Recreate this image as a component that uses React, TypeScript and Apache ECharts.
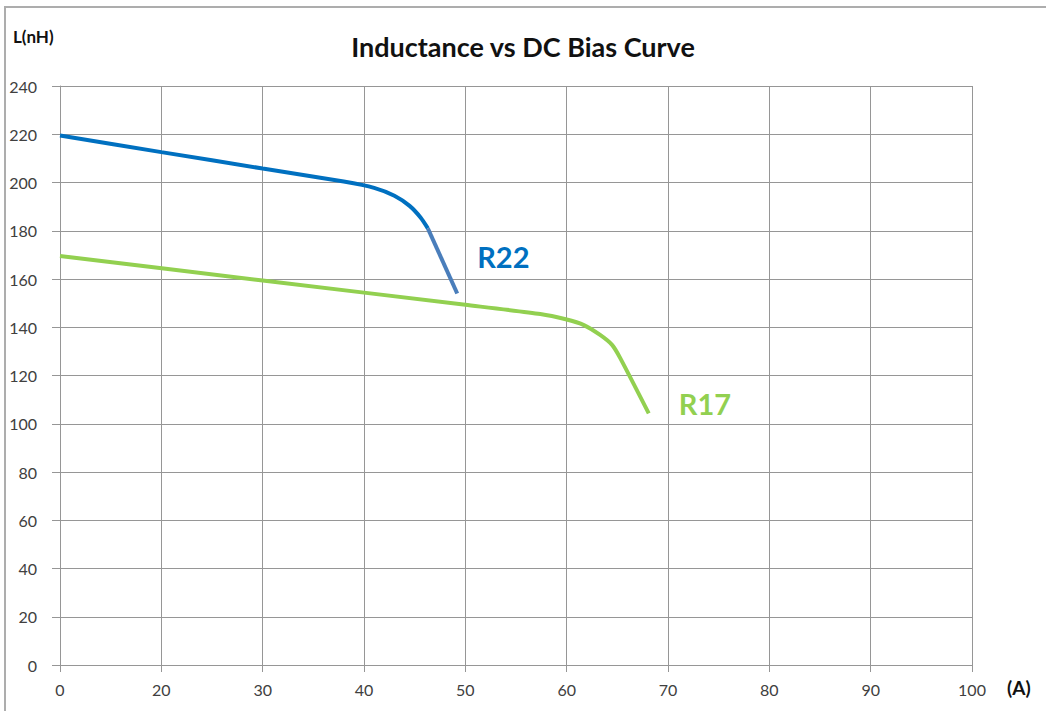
import React, { useEffect, useRef } from "react";
import * as echarts from "echarts";

// x axis: first gridline is labelled "0", the rest 20..100
const xMin = 10;
const xMax = 100;
const xStep = 10;
const yMin = 0;
const yMax = 240;
const yStep = 20;

const r22X = [10, 20, 30, 38, 41, 43, 44.5, 45.6, 46.3];
const r22Y = [219.5, 212.6, 205.8, 200.4, 197.8, 194.5, 190.3, 185.4, 181];
const r22TailX = [46.3, 49.2];
const r22TailY = [181, 154];
const r17X = [10, 30, 50, 57.4, 59.9, 61.7, 63.3, 64.5, 65.3, 68.1];
const r17Y = [169.5, 159.4, 149.3, 145.5, 143.3, 140.9, 136.8, 132.6, 127.1, 104.3];

const FONT = "Lato, 'Open Sans', sans-serif";

export default function App() {
  const ref = useRef<HTMLDivElement>(null);
  useEffect(() => {
    if (!ref.current) return;
    const chart = echarts.init(ref.current, null, { renderer: "svg" });
    const grid = "#969696";
    chart.setOption({
      animation: false,
      backgroundColor: "#ffffff",
      textStyle: { fontFamily: FONT },
      title: {
        text: "Inductance vs DC Bias Curve",
        left: "center",
        top: 28,
        textStyle: { fontFamily: FONT, fontSize: 27, fontWeight: "bold", color: "#111" },
      },
      grid: { left: 60, top: 86, right: 74, bottom: 46 },
      xAxis: {
        type: "value",
        min: xMin,
        max: xMax,
        interval: xStep,
        axisLine: { show: true, lineStyle: { color: grid, width: 1 } },
        axisTick: { show: true, length: 7, lineStyle: { color: grid } },
        splitLine: { show: true, lineStyle: { color: grid, width: 1 } },
        axisLabel: {
          fontSize: 16,
          color: "#404040",
          margin: 16,
          formatter: (v: number) => (v === xMin ? "0" : String(v)),
        },
      },
      yAxis: {
        type: "value",
        min: yMin,
        max: yMax,
        interval: yStep,
        axisLine: { show: true, lineStyle: { color: grid, width: 1 } },
        axisTick: { show: true, length: 8, lineStyle: { color: grid } },
        splitLine: { show: true, lineStyle: { color: grid, width: 1 } },
        axisLabel: { fontSize: 16, color: "#404040", margin: 23 },
      },
      series: [
        {
          name: "R22",
          type: "line",
          showSymbol: false,
          smooth: 0.25,
          data: r22X.map((x, i) => [x, r22Y[i]]),
          lineStyle: { width: 4, color: "#0070C0" },
          itemStyle: { color: "#0070C0" },
        },
        {
          name: "R22",
          type: "line",
          showSymbol: false,
          data: r22TailX.map((x, i) => [x, r22TailY[i]]),
          lineStyle: { width: 4, color: "#4A7EBB" },
          itemStyle: { color: "#4A7EBB" },
          endLabel: {
            show: true,
            formatter: "{a}",
            offset: [12, -37],
            color: "#0070C0",
            fontSize: 29,
            fontWeight: "bold",
            fontFamily: FONT,
          },
        },
        {
          name: "R17",
          type: "line",
          showSymbol: false,
          smooth: 0.2,
          data: r17X.map((x, i) => [x, r17Y[i]]),
          lineStyle: { width: 4, color: "#92D050" },
          itemStyle: { color: "#92D050" },
          endLabel: {
            show: true,
            formatter: "{a}",
            offset: [22, -10],
            color: "#92D050",
            fontSize: 29,
            fontWeight: "bold",
            fontFamily: FONT,
          },
        },
      ],
      graphic: [
        {
          type: "rect",
          shape: { x: 5, y: 7, width: 1200, height: 900 },
          style: { fill: "none", stroke: "#adadad", lineWidth: 2 },
          silent: true,
        },
        {
          type: "text",
          left: 13,
          top: 28,
          style: { text: "L(nH)", font: `bold 17px ${FONT}`, fill: "#111" },
        },
        {
          type: "text",
          left: 1007,
          top: 678,
          style: { text: "(A)", font: `bold 19px ${FONT}`, fill: "#111" },
        },
      ],
    });
    return () => chart.dispose();
  }, []);
  return (
    <div
      ref={ref}
      style={{ position: "fixed", left: 0, top: 0, width: 1046, height: 711 }}
    />
  );
}
